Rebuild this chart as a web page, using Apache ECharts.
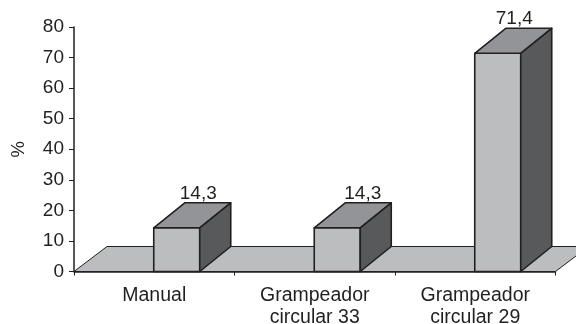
<!DOCTYPE html>
<html>
<head>
<meta charset="utf-8">
<style>html,body{margin:0;padding:0;background:#fff}#chart{width:576px;height:324px}</style>
<script src="https://cdn.jsdelivr.net/npm/echarts@6/dist/echarts.min.js"></script>
</head>
<body>
<div id="chart"></div>
<script>
// Percentage of cases per stapling technique
const categories = ['Manual', 'Grampeador\ncircular 33', 'Grampeador\ncircular 29'];
const values = [14.3, 14.3, 71.4];
const valueLabels = ['14,3', '14,3', '71,4'];
const yTicks = { min: 0, max: 80, interval: 10 };

// Pseudo-3D drawing parameters
const depthX = 31, depthY = 25, floorDepthX = 33;
const barWidth = 46, barShift = 22.5;
const labelShift = [0, 4, -5];
const ink = '#231f20';
const faceColor = '#bcbdbf', topColor = '#929497', sideColor = '#58595b';

function poly(points, fill, width) {
  return { type: 'polygon', shape: { points }, style: { fill, stroke: ink, lineWidth: width, lineJoin: 'round' } };
}

const chart = echarts.init(document.getElementById('chart'), null, { renderer: 'canvas' });
chart.setOption({
  backgroundColor: '#ffffff',
  animation: false,
  textStyle: { fontFamily: '"Liberation Sans", Arial, sans-serif' },
  grid: { left: 74, right: 20.5, top: 27, bottom: 52.5, outerBoundsMode: 'none', containLabel: false },
  xAxis: {
    type: 'category',
    data: categories,
    axisLine: { lineStyle: { color: ink, width: 1.5 } },
    axisTick: { show: true, length: 4, alignWithLabel: false, lineStyle: { color: ink, width: 1 } },
    axisLabel: { color: ink, fontSize: 19.5, margin: 13, lineHeight: 22, interval: 0 }
  },
  yAxis: {
    type: 'value',
    min: yTicks.min,
    max: yTicks.max,
    interval: yTicks.interval,
    name: '%',
    nameLocation: 'middle',
    nameGap: 46,
    nameRotate: 90,
    nameTextStyle: { color: ink, fontSize: 18.5 },
    splitLine: { show: false },
    axisLine: { show: true, lineStyle: { color: ink, width: 1.5 } },
    axisTick: { show: true, length: 5, lineStyle: { color: ink, width: 1 } },
    axisLabel: { color: ink, fontSize: 19, margin: 10 }
  },
  series: [
    {
      // Floor plane under the columns
      type: 'custom',
      coordinateSystem: 'cartesian2d',
      clip: false,
      z: 1,
      data: [[0, 0]],
      renderItem(params) {
        const r = params.coordSys;
        const x0 = r.x, x1 = r.x + r.width, y0 = r.y + r.height;
        return poly([
          [x0, y0], [x0 + floorDepthX, y0 - depthY],
          [x1 + floorDepthX, y0 - depthY], [x1, y0]
        ], faceColor, 1);
      },
      silent: true
    },
    {
      // Columns: front, top and side faces with the value above
      type: 'custom',
      coordinateSystem: 'cartesian2d',
      clip: false,
      z: 3,
      data: values.map((v, i) => [i, v]),
      renderItem(params, api) {
        const i = api.value(0);
        const top = api.coord([i, api.value(1)]);
        const base = api.coord([i, 0]);
        const l = top[0] + barShift - barWidth / 2, r = l + barWidth;
        const t = top[1], b = base[1];
        return {
          type: 'group',
          children: [
            poly([[l, t], [r, t], [r, b], [l, b]], faceColor, 1.6),
            poly([[l, t], [l + depthX, t - depthY], [r + depthX, t - depthY], [r, t]], topColor, 1.6),
            poly([[r, t], [r + depthX, t - depthY], [r + depthX, b - depthY], [r, b]], sideColor, 1.6),
            {
              type: 'text',
              style: {
                text: valueLabels[i],
                x: (l + r) / 2 + depthX / 2 + 6 + labelShift[i],
                y: t - depthY,
                align: 'center',
                verticalAlign: 'bottom',
                fill: ink,
                fontSize: 19,
                fontFamily: '"Liberation Sans", Arial, sans-serif'
              }
            }
          ]
        };
      }
    }
  ]
});
</script>
</body>
</html>
